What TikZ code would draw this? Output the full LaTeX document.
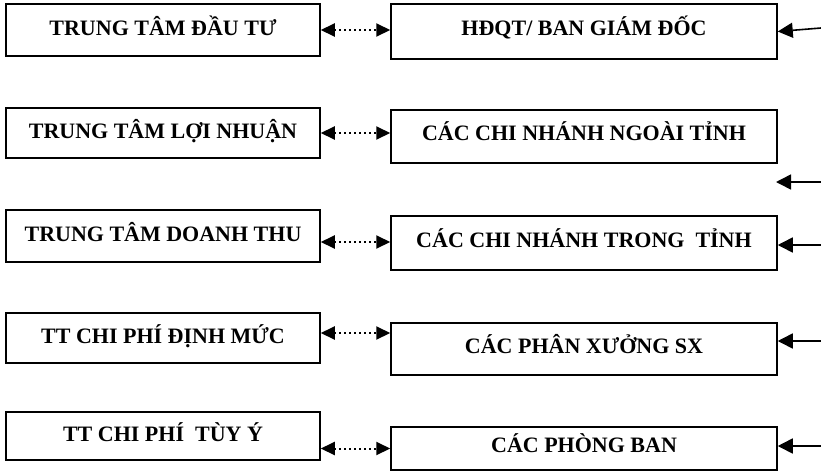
\documentclass[tikz,border=0pt]{standalone}
\usepackage{fontspec}
\setmainfont{Liberation Serif}
\usetikzlibrary{arrows.meta}

\begin{document}
\begin{tikzpicture}[x=1pt,y=-1pt,
  box/.style={draw,line width=1.5pt,font=\bfseries\fontsize{22}{25}\selectfont,
    inner sep=0pt,text height=17pt,text depth=9pt},
  leftbox/.style={box,minimum width=314pt,text depth=6pt},
  rightbox/.style={box,minimum width=386pt},
  dotlink/.style={line width=2pt,dash pattern=on 2pt off 3pt,
    {Triangle[length=14pt,width=13pt]}-{Triangle[length=14pt,width=13pt]}},
  feed/.style={line width=1.6pt,-{Triangle[length=15pt,width=15pt]}}]

\useasboundingbox (0,0) rectangle (821,472);

% Draw the left boxes
  \node[leftbox,minimum height=52pt] (dautu) at (163,30) {TRUNG TÂM ĐẦU TƯ};
  \node[leftbox,minimum height=50pt] (loinhuan) at (163,133) {TRUNG TÂM LỢI NHUẬN};
  \node[leftbox,minimum height=52pt] (doanhthu) at (163,236) {TRUNG TÂM DOANH THU};
  \node[leftbox,minimum height=50pt] (dinhmuc) at (163,338) {TT CHI PHÍ ĐỊNH MỨC};
  \node[leftbox,minimum height=48pt] (tuyy) at (163,436) {TT CHI PHÍ\ \ TÙY Ý};

% Draw the right boxes
  \node[rightbox,minimum height=55pt] (hdqt) at (584,31.5) {HĐQT/ BAN GIÁM ĐỐC};
  \node[rightbox,minimum height=53pt] (ngoaitinh) at (584,136.5) {CÁC CHI NHÁNH NGOÀI TỈNH};
  \node[rightbox,minimum height=54pt] (trongtinh) at (584,243) {CÁC CHI NHÁNH TRONG\ \ TỈNH};
  \node[rightbox,minimum height=52pt] (phanxuong) at (584,349) {CÁC PHÂN XƯỞNG SX};
  \node[rightbox,minimum height=43pt] (phongban) at (584,448.5) {CÁC PHÒNG BAN};

% Dotted links between the two columns
  \draw[dotlink] (dautu.east) -- (dautu.east -| hdqt.west);
  \draw[dotlink] (loinhuan.east) -- (loinhuan.east -| ngoaitinh.west);
  \draw[dotlink] ([yshift=-6pt]doanhthu.east) -- ([yshift=-6pt]doanhthu.east -| trongtinh.west);
  \draw[dotlink] ([yshift=5pt]dinhmuc.east) -- ([yshift=5pt]dinhmuc.east -| phanxuong.west);
  \draw[dotlink] (phongban.west -| tuyy.east) -- (phongban.west);

% Arrows coming in from the right
  \coordinate (in1) at (821,28);
  \coordinate (in2) at (821,182);
  \coordinate (stub) at (776,182);
  \coordinate (in3) at (821,245);
  \coordinate (in4) at (821,341);
  \coordinate (in5) at (821,446);
  \draw[feed] (in1) -- (hdqt.east);
  \draw[feed] (in2) -- (stub);
  \draw[feed] (in3) -- (in3 -| trongtinh.east);
  \draw[feed] (in4) -- (in4 -| phanxuong.east);
  \draw[feed] (in5) -- (in5 -| phongban.east);

\end{tikzpicture}
\end{document}
